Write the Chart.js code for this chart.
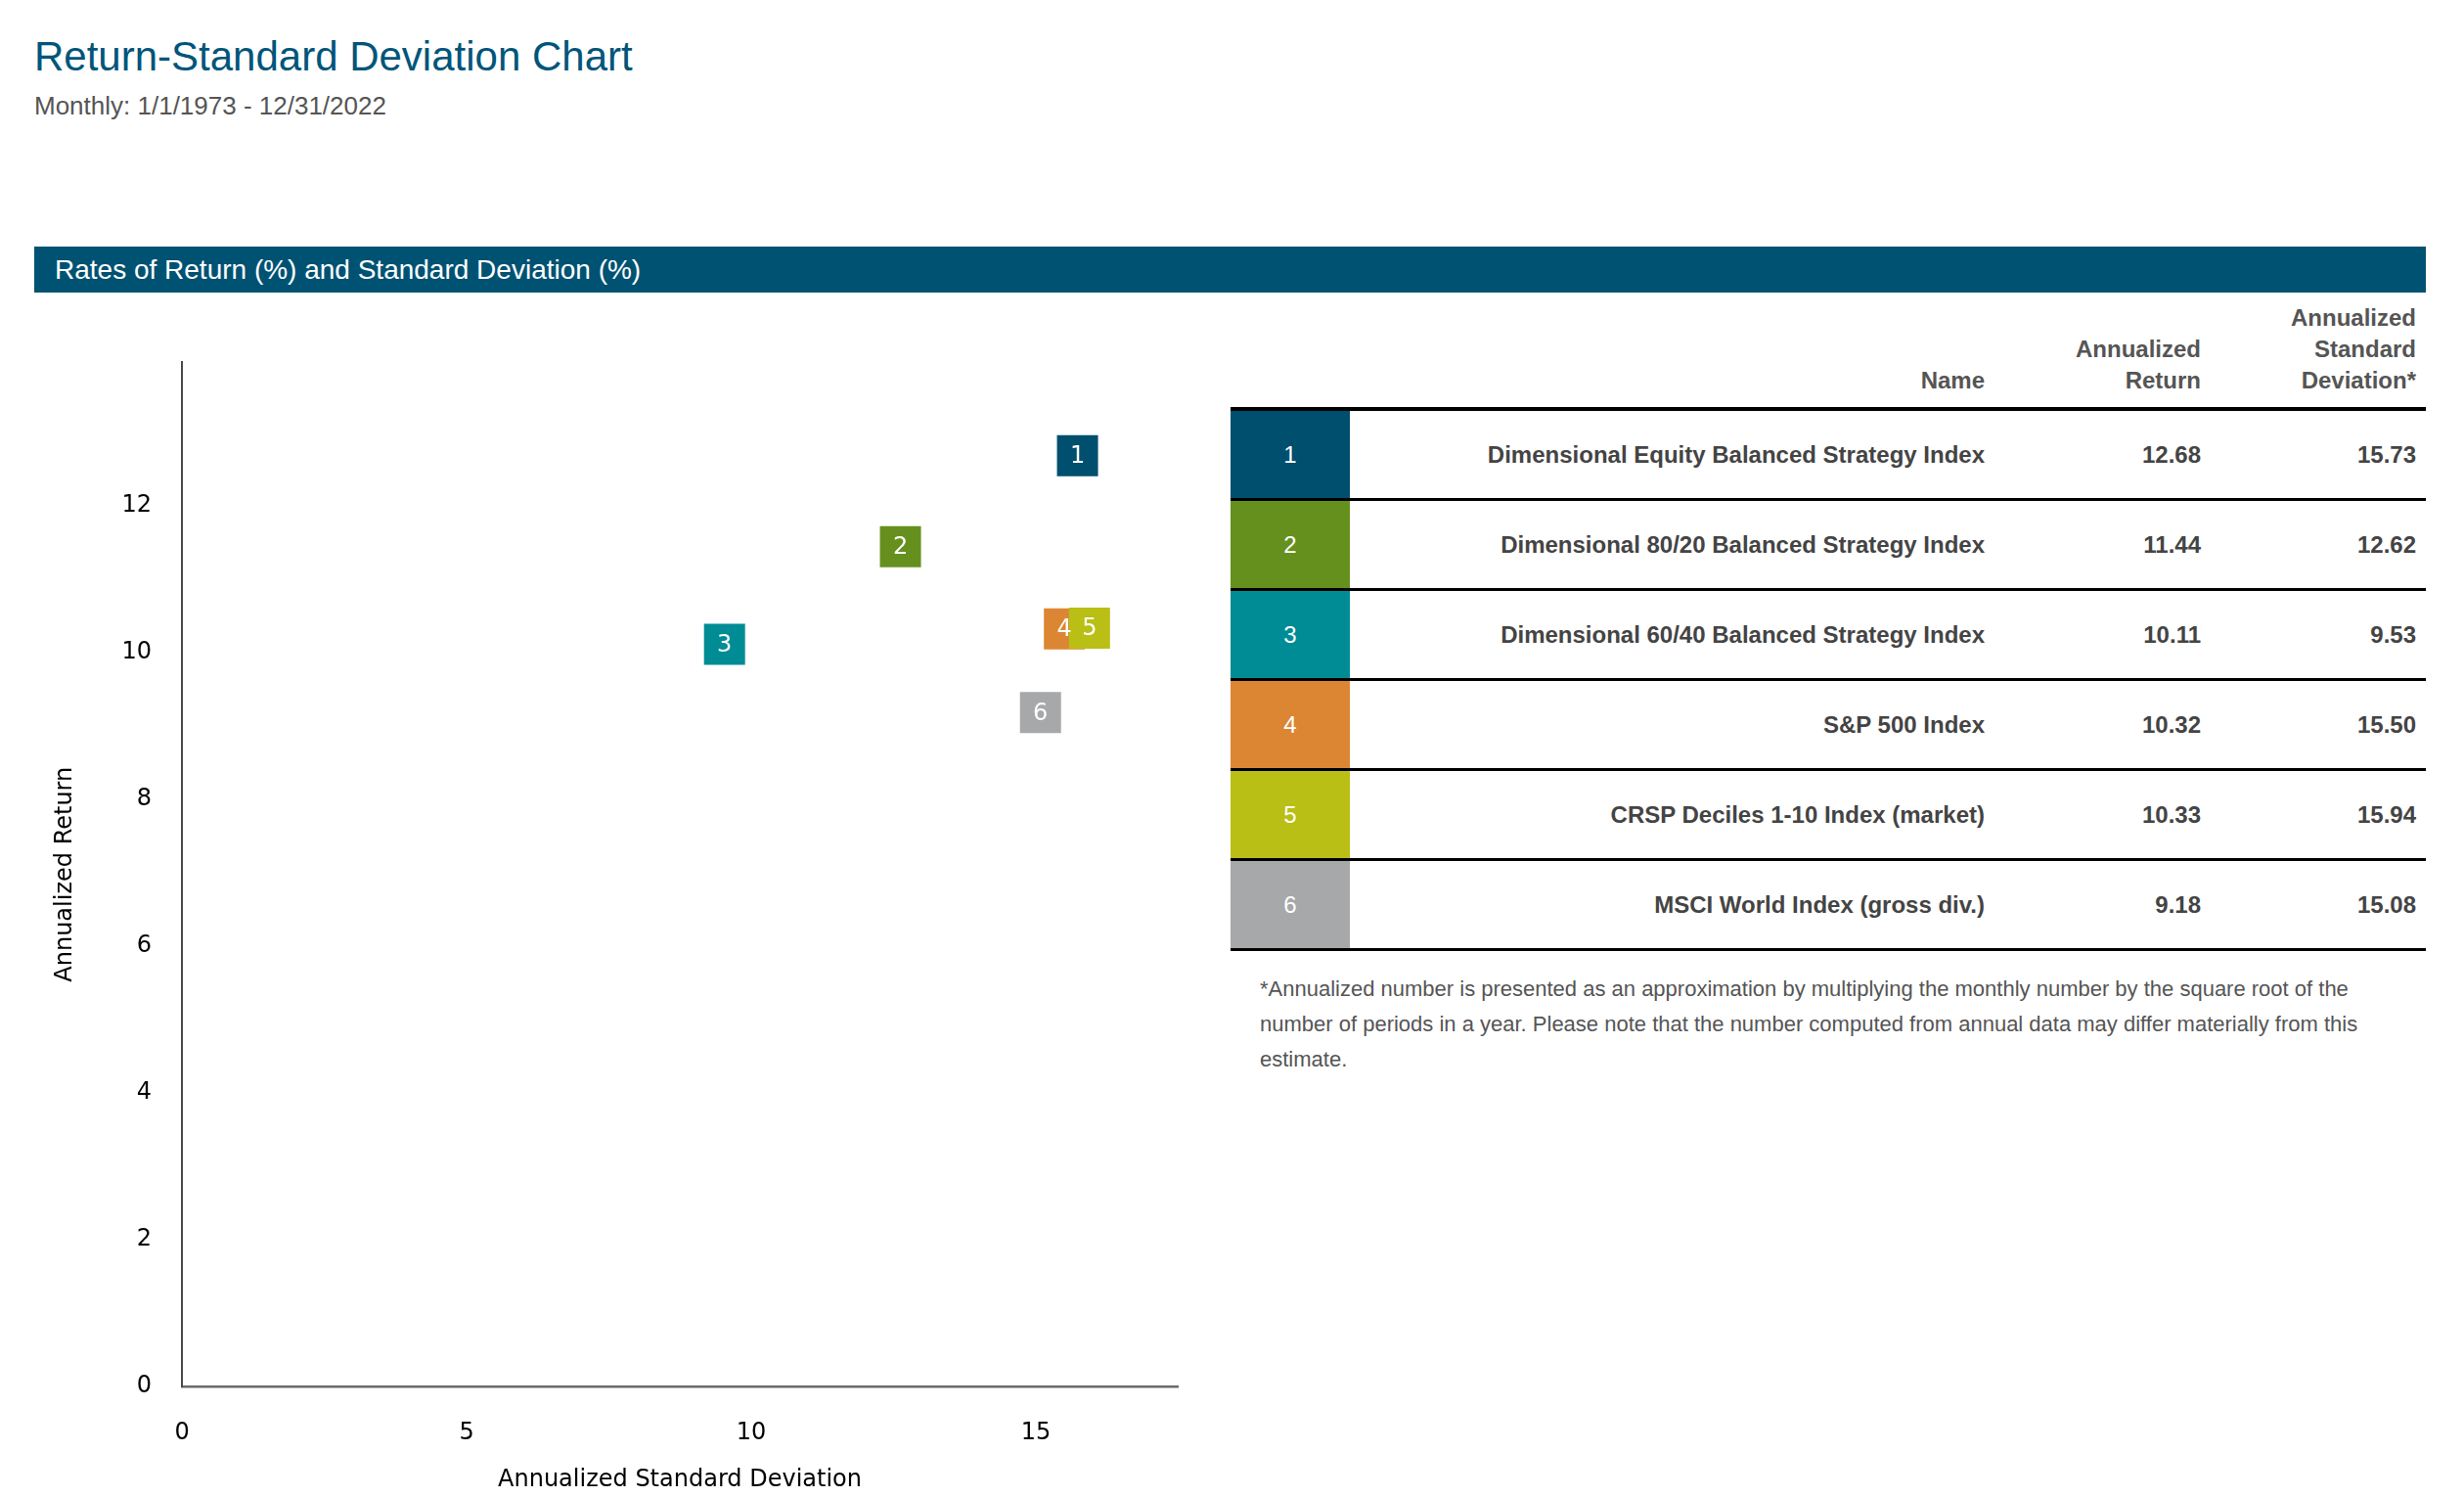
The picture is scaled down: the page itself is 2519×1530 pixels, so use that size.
<!DOCTYPE html>
<html>
<head>
<meta charset="utf-8">
<script src="https://cdn.jsdelivr.net/npm/chart.js@4.4.1/dist/chart.umd.min.js"></script>
<style>
  html, body { margin: 0; padding: 0; background: #fff; }
  body { width: 2519px; height: 1530px; position: relative; overflow: hidden; font-family: "Liberation Sans", Arial, sans-serif; }
  #title { position: absolute; left: 35px; top: 33px; font-size: 42px; color: #00557a; line-height: 50px; white-space: nowrap; }
  #subtitle { position: absolute; left: 35px; top: 92px; font-size: 26px; color: #555; line-height: 32px; white-space: nowrap; }
  #banner { position: absolute; left: 35px; top: 252px; width: 2445px; height: 47px; background: #005273; color: #fff; font-size: 28px; line-height: 47px; box-sizing: border-box; padding-left: 21px; white-space: nowrap; }
  #chartBox { position: absolute; left: 0; top: 325px; width: 1250px; height: 1205px; }
  #table { position: absolute; left: 1258px; top: 300px; width: 1222px; }
  .hdr { display: flex; height: 116px; border-bottom: 4px solid #000; align-items: flex-end; }
  .row { display: flex; height: 89px; border-bottom: 3px solid #000; align-items: stretch; }
  .c1 { width: 122px; flex: none; }
  .c2 { width: 649px; flex: none; padding-right: 10px; text-align: right; }
  .c3 { width: 211px; flex: none; padding-right: 10px; text-align: right; }
  .c4 { width: 210px; flex: none; padding-right: 10px; text-align: right; }
  .hdr div { font-weight: bold; color: #555; font-size: 24px; line-height: 32px; padding-bottom: 11px; }
  .row div { display: flex; align-items: center; justify-content: flex-end; font-size: 24px; font-weight: bold; color: #444; }
  .row .c1 { justify-content: center; color: #fff; font-weight: normal; }
  #note { position: absolute; left: 1288px; top: 993px; font-size: 22px; line-height: 36px; color: #555; white-space: nowrap; }
</style>
</head>
<body>
<div id="title">Return-Standard Deviation Chart</div>
<div id="subtitle">Monthly: 1/1/1973 - 12/31/2022</div>
<div id="banner">Rates of Return (%) and Standard Deviation (%)</div>
<div id="chartBox"><canvas id="c"></canvas></div>
<div id="table"></div>
<div id="note">*Annualized number is presented as an approximation by multiplying the monthly number by the square root of the<br>number of periods in a year. Please note that the number computed from annual data may differ materially from this<br>estimate.</div>
<script>
const seriesIds = ['1', '2', '3', '4', '5', '6'];
const seriesNames = [
  'Dimensional Equity Balanced Strategy Index',
  'Dimensional 80/20 Balanced Strategy Index',
  'Dimensional 60/40 Balanced Strategy Index',
  'S&P 500 Index',
  'CRSP Deciles 1-10 Index (market)',
  'MSCI World Index (gross div.)'
];
const annualizedReturn = [12.68, 11.44, 10.11, 10.32, 10.33, 9.18];
const annualizedStdDev = [15.73, 12.62, 9.53, 15.50, 15.94, 15.08];
const seriesColors = ['#004f6e', '#66901e', '#008c95', '#dc8633', '#b9bf15', '#a7a8aa'];
const xTickStep = 5;
const yTickStep = 2;

// Table
const tbl = document.getElementById('table');
let html = '<div class="hdr"><div class="c1"></div><div class="c2">Name</div><div class="c3">Annualized<br>Return</div><div class="c4">Annualized<br>Standard<br>Deviation*</div></div>';
seriesIds.forEach((id, i) => {
  html += '<div class="row"><div class="c1" style="background:' + seriesColors[i] + '">' + id + '</div>' +
    '<div class="c2">' + seriesNames[i].replace('&', '&amp;') + '</div>' +
    '<div class="c3">' + annualizedReturn[i].toFixed(2) + '</div>' +
    '<div class="c4">' + annualizedStdDev[i].toFixed(2) + '</div></div>';
});
tbl.innerHTML = html;

const labelPlugin = {
  id: 'boxLabels',
  afterDatasetsDraw(chart) {
    const ctx = chart.ctx;
    const meta = chart.getDatasetMeta(0);
    ctx.save();
    ctx.font = '24px "DejaVu Sans"';
    ctx.fillStyle = '#ffffff';
    ctx.textAlign = 'center';
    ctx.textBaseline = 'middle';
    meta.data.forEach((pt, i) => ctx.fillText(seriesIds[i], pt.x, pt.y + 1));
    ctx.restore();
  }
};

const axisFont = { family: '"DejaVu Sans", Verdana, sans-serif', size: 24 };

new Chart(document.getElementById('c'), {
  type: 'scatter',
  data: {
    datasets: [{
      data: annualizedStdDev.map((x, i) => ({ x: x, y: annualizedReturn[i] })),
      pointStyle: 'rect',
      pointRadius: 29.7,
      pointHoverRadius: 29.7,
      pointBorderWidth: 0,
      backgroundColor: seriesColors,
      pointBackgroundColor: seriesColors,
      borderColor: seriesColors,
      clip: false
    }]
  },
  options: {
    responsive: true,
    maintainAspectRatio: false,
    animation: false,
    devicePixelRatio: 1,
    layout: { padding: { top: 30, right: 46, bottom: 0, left: 52 } },
    plugins: { legend: { display: false }, tooltip: { enabled: false } },
    scales: {
      x: {
        type: 'linear',
        min: 0,
        max: 17.49,
        grid: { display: false, drawTicks: false },
        border: { display: true, color: '#6b6b6b', width: 2.5 },
        ticks: { stepSize: xTickStep, includeBounds: false, color: '#000', font: axisFont, padding: 33 },
        title: { display: true, text: 'Annualized Standard Deviation', color: '#000', font: axisFont, padding: { top: -13.2, bottom: 2.6 } }
      },
      y: {
        type: 'linear',
        min: 0,
        max: 13.95,
        grid: { display: false, drawTicks: false },
        border: { display: true, color: '#4a4a4a', width: 2 },
        ticks: { stepSize: yTickStep, includeBounds: false, color: '#000', font: axisFont, padding: 31 },
        title: { display: true, text: 'Annualized Return', color: '#000', font: axisFont, padding: { top: 0, bottom: 12.7 } }
      }
    }
  },
  plugins: [labelPlugin]
});
</script>
</body>
</html>
